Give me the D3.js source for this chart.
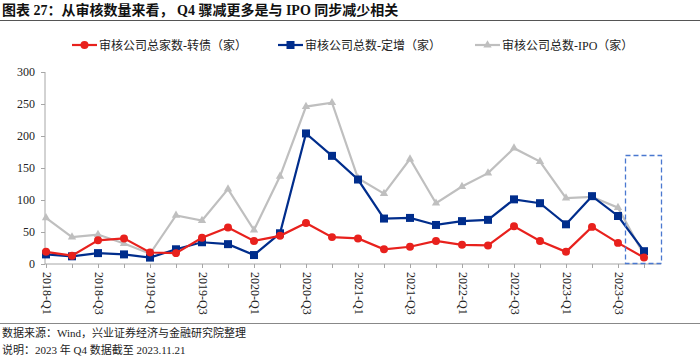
<!DOCTYPE html>
<html>
<head>
<meta charset="utf-8">
<script src="https://cdn.jsdelivr.net/npm/d3@7"></script>
<style>
body { margin: 0; background: #fff; }
svg { display: block; font-family: "Liberation Serif", "Noto Sans CJK SC", serif; }
</style>
</head>
<body>
<svg width="700" height="361"></svg>
<script>
const quarters = ["2018-Q1","2018-Q2","2018-Q3","2018-Q4","2019-Q1","2019-Q2","2019-Q3","2019-Q4",
  "2020-Q1","2020-Q2","2020-Q3","2020-Q4","2021-Q1","2021-Q2","2021-Q3","2021-Q4",
  "2022-Q1","2022-Q2","2022-Q3","2022-Q4","2023-Q1","2023-Q2","2023-Q3","2023-Q4"]
const convertible = [19,13,37,40,18,17,41,57,36,44,64,42,40,23,27,36,30,29,59,36,19,58,33,10]
const placement = [15,12,17,15,10,23,34,31,14,48,204,169,132,71,72,61,67,69,101,95,62,106,75,20]
const ipo = [72,42,46,32,16,76,68,117,53,137,246,252,134,110,164,95,121,142,181,160,103,105,88,14]
const yTicks = [0,50,100,150,200,250,300]
const names = ["审核公司总家数-转债（家）","审核公司总数-定增（家）","审核公司总数-IPO（家）"]

const svg = d3.select("svg")
const width = 700, height = 361
const plotLeft = 46, plotRight = 644, plotTop = 72, plotBottom = 264

const xScale = d3.scalePoint().domain(quarters).range([plotLeft, plotRight])
const yScale = d3.scaleLinear().domain([0, 300]).range([plotBottom, plotTop])

// title
svg.append("text").attr("x", 2).attr("y", 15)
  .style("font-size", "14px").style("font-weight", "bold").style("fill", "#111")
  .text("图表 27：从审核数量来看， Q4 骤减更多是与 IPO 同步减少相关")
svg.append("line").attr("x1", 0).attr("x2", width).attr("y1", 20.5).attr("y2", 20.5)
  .style("stroke", "#555").style("stroke-width", 1.2)

// axes
const yAxis = d3.axisLeft(yScale).tickValues(yTicks).tickSize(4).tickPadding(6)
const gy = svg.append("g").attr("transform", `translate(${plotLeft - 1},0)`).call(yAxis)
gy.selectAll("text").style("font-size", "12px").style("fill", "#222")
  .style("font-family", "Liberation Serif")

const xAxis = d3.axisBottom(xScale).tickSize(4).tickFormat((d, i) => i % 2 === 0 ? d : "")
const gx = svg.append("g").attr("transform", `translate(0,${plotBottom})`).call(xAxis)
gx.select(".domain").attr("d", `M${plotLeft - 1},0H${plotRight + 17}`)
gx.selectAll("text")
  .style("font-size", "12px").style("fill", "#222").style("font-family", "Liberation Serif")
  .attr("text-anchor", "start").attr("dx", 0).attr("dy", 0)
  .attr("y", 0).attr("x", 0)
  .attr("transform", "translate(-4,8) rotate(90)")
svg.selectAll(".domain, .tick line").style("stroke", "#a6a6a6")
gy.select(".domain").attr("d", `M0,${plotTop}V${plotBottom}`)

// lines
const series = [
  { values: ipo, color: "#bfbfbf", shape: d3.symbolTriangle, size: 30 },
  { values: placement, color: "#002d8c", shape: d3.symbolSquare, size: 64 },
  { values: convertible, color: "#e8211d", shape: d3.symbolCircle, size: 50 }
]
const line = d3.line().x((d, i) => xScale(quarters[i])).y(d => yScale(d))
series.forEach(s => {
  svg.append("path").datum(s.values).attr("d", line)
    .style("fill", "none").style("stroke", s.color).style("stroke-width", 2.2)
  svg.append("g").selectAll("path").data(s.values).enter().append("path")
    .attr("transform", (d, i) => `translate(${xScale(quarters[i])},${yScale(d)})`)
    .attr("d", d3.symbol().type(s.shape).size(s.size))
    .style("fill", s.color)
})

// highlight box
svg.append("rect").attr("x", 625.5).attr("y", 155.5).attr("width", 36).attr("height", 108)
  .style("fill", "none").style("stroke", "#4a78d0").style("stroke-width", 1.3)
  .style("stroke-dasharray", "5,3")

// legend
const legend = [
  { x: 72, color: "#e8211d", shape: d3.symbolCircle, size: 50, name: names[0] },
  { x: 278, color: "#002d8c", shape: d3.symbolSquare, size: 64, name: names[1] },
  { x: 475, color: "#bfbfbf", shape: d3.symbolTriangle, size: 30, name: names[2] }
]
legend.forEach(l => {
  svg.append("line").attr("x1", l.x).attr("x2", l.x + 25).attr("y1", 45).attr("y2", 45)
    .style("stroke", l.color).style("stroke-width", 2.2)
  svg.append("path").attr("transform", `translate(${l.x + 12.5},45)`)
    .attr("d", d3.symbol().type(l.shape).size(l.size)).style("fill", l.color)
  svg.append("text").attr("x", l.x + 27).attr("y", 49.5)
    .style("font-size", "12px").style("fill", "#222").text(l.name)
})

// footer
svg.append("line").attr("x1", 0).attr("x2", width).attr("y1", 323.5).attr("y2", 323.5)
  .style("stroke", "#888").style("stroke-width", 1.2)
svg.append("text").attr("x", 2).attr("y", 337).style("font-size", "11px").style("fill", "#222")
  .text("数据来源：Wind，兴业证券经济与金融研究院整理")
svg.append("text").attr("x", 2).attr("y", 354).style("font-size", "11px").style("fill", "#222")
  .text("说明：2023 年 Q4 数据截至 2023.11.21")
</script>
</body>
</html>
